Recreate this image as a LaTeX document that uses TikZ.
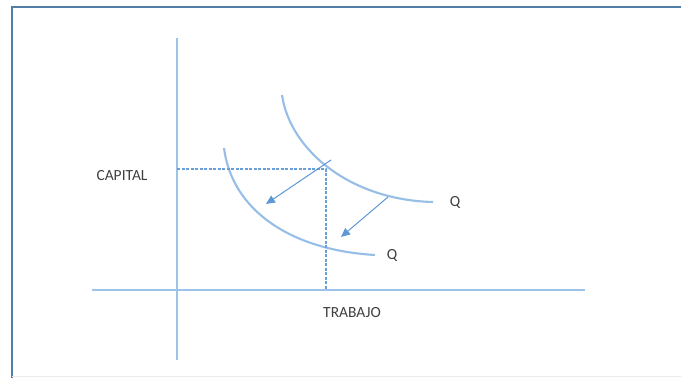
\documentclass[tikz,border=0pt]{standalone}
\usepackage{fontspec}
\setmainfont{Carlito}
\usetikzlibrary{arrows.meta}
\definecolor{myaxis}{RGB}{157,195,232}
\definecolor{mycurve}{RGB}{150,190,230}
\definecolor{mydash}{RGB}{105,160,218}
\definecolor{myarrow}{RGB}{95,150,212}
\definecolor{myframe}{RGB}{84,126,168}
\definecolor{mytext}{RGB}{64,64,64}

\begin{document}
\begin{tikzpicture}[x=1pt,y=-1pt,
  axisline/.style={myaxis,line width=2.4pt},
  isoquant/.style={mycurve,line width=2.1pt},
  guide/.style={mydash,line width=1.5pt,dash pattern=on 3pt off 1.5pt},
  movearrow/.style={-{Triangle[length=9pt,width=8pt]},myarrow,line width=1pt},
  lbl/.style={font=\fontsize{15.5}{17}\selectfont,text=mytext,inner sep=0pt}]
\useasboundingbox (0,0) rectangle (681,378);
% frame
\draw[myframe,line width=2.6pt] (12,378) -- (12,7) -- (681,7);
\draw[black!8,line width=0.6pt] (12,376.5) -- (681,376.5);
% axes
\draw[axisline] (177,38) -- (177,360);
\draw[axisline] (92,290) -- (585,290);
% isoquants
\draw[isoquant] (282,95) .. controls (290,150) and (350,200) .. (433,202);
\draw[isoquant] (224,148) .. controls (232,210) and (290,250) .. (375,255);
% guide lines
\coordinate (p) at (326,169);
\draw[guide] (177,169) -- (p) -- (326,290);
% shifts
\coordinate (a1) at (331,160);
\coordinate (b1) at (266,204);
\coordinate (a2) at (388,197);
\coordinate (b2) at (341,237);
\draw[movearrow] (a1) -- (b1);
\draw[movearrow] (a2) -- (b2);
% labels
\node[lbl] (capital) at (122,176) {CAPITAL};
\node[lbl] (trabajo) at (352,313) {TRABAJO};
\node[lbl] (q1) at (455,202) {Q};
\node[lbl] (q2) at (392,255) {Q};
\end{tikzpicture}
\end{document}
